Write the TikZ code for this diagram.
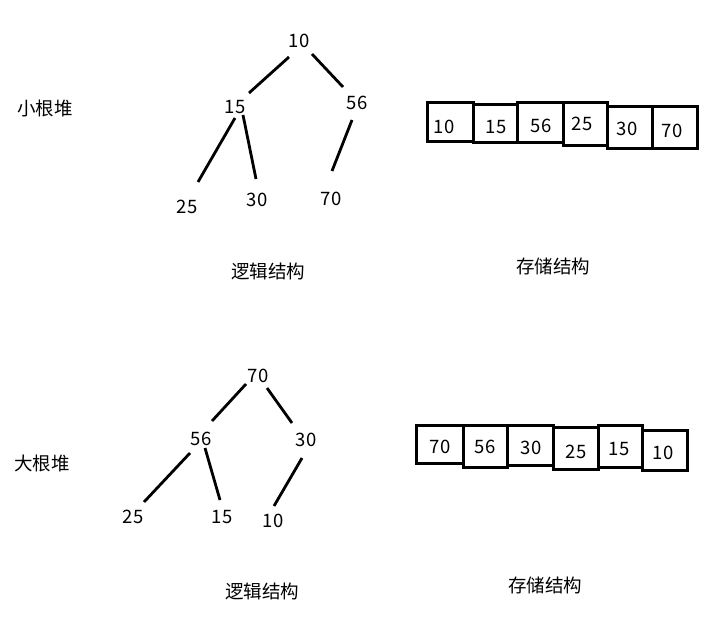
\documentclass[tikz,border=0pt]{standalone}
\usepackage{fontspec}
\setmainfont{Noto Sans CJK SC}
\begin{document}
\begin{tikzpicture}[x=1pt,y=-1pt,
  txt/.style={inner sep=0pt, font=\fontsize{18.5}{22}\selectfont},
  edge/.style={line width=2.8pt},
  cell/.style={draw, line width=3pt, inner sep=0pt}]
\useasboundingbox[fill=white] (0,0) rectangle (719,639);
% ---- top tree
\node[txt] (t10) at (299,41) {10};
\node[txt] (t15) at (235,107) {15};
\node[txt] (t56) at (357,103) {56};
\node[txt] (t25) at (187,207) {25};
\node[txt] (t30) at (257,200) {30};
\node[txt] (t70) at (331,199) {70};
\draw[edge] ([shift={(-10,16)}]t10.center) -- ([shift={(14,-14)}]t15.center);
\draw[edge] ([shift={(13,13)}]t10.center) -- ([shift={(-14,-16)}]t56.center);
\draw[edge] ([shift={(0,11)}]t15.center) -- ([shift={(11,-25)}]t25.center);
\draw[edge] ([shift={(8,8)}]t15.center) -- ([shift={(-1,-21)}]t30.center);
\draw[edge] ([shift={(-5,17)}]t56.center) -- ([shift={(1,-28)}]t70.center);
\node[txt] (lsmall) at (45,108) {小根堆};
\node[txt] (logic1) at (268,271) {逻辑结构};
\node[txt] (store1) at (553,266) {存储结构};
% ---- top array
\node[cell, minimum width=46, minimum height=39] (a1) at (450,122.5) {};
\node[cell, minimum width=44, minimum height=38] (a2) at (495,124) {};
\node[cell, minimum width=46, minimum height=40] (a3) at (540,123) {};
\node[cell, minimum width=44, minimum height=43] (a4) at (585,124.5) {};
\node[cell, minimum width=45, minimum height=42] (a5) at (629.5,128) {};
\node[cell, minimum width=45, minimum height=42] (a6) at (674.5,128) {};
\node[txt] (a1t) at (444,127) {10};
\node[txt] (a2t) at (496,127) {15};
\node[txt] (a3t) at (541,126) {56};
\node[txt] (a4t) at (582,124) {25};
\node[txt] (a5t) at (627,129) {30};
\node[txt] (a6t) at (672,131) {70};
% ---- bottom tree
\node[txt] (b70) at (258,376) {70};
\node[txt] (b56) at (201,439) {56};
\node[txt] (b30) at (306,440) {30};
\node[txt] (b25) at (133,517) {25};
\node[txt] (b15) at (222,517) {15};
\node[txt] (b10) at (273,521) {10};
\draw[edge] ([shift={(-12,8)}]b70.center) -- ([shift={(11,-18)}]b56.center);
\draw[edge] ([shift={(9,12)}]b70.center) -- ([shift={(-14,-17)}]b30.center);
\draw[edge] ([shift={(-11,14)}]b56.center) -- ([shift={(11,-15)}]b25.center);
\draw[edge] ([shift={(4,9)}]b56.center) -- ([shift={(-2,-17)}]b15.center);
\draw[edge] ([shift={(-4,18)}]b30.center) -- ([shift={(1,-15)}]b10.center);
\node[txt] (lbig) at (42,463) {大根堆};
\node[txt] (logic2) at (262,591) {逻辑结构};
\node[txt] (store2) at (545,585) {存储结构};
% ---- bottom array
\node[cell, minimum width=47, minimum height=38] (c1) at (439.5,444) {};
\node[cell, minimum width=44, minimum height=42] (c2) at (485,446) {};
\node[cell, minimum width=46, minimum height=40] (c3) at (530,445) {};
\node[cell, minimum width=45, minimum height=42] (c4) at (575.5,448) {};
\node[cell, minimum width=44, minimum height=42] (c5) at (620,446) {};
\node[cell, minimum width=45, minimum height=40] (c6) at (664.5,450) {};
\node[txt] (c1t) at (440,447) {70};
\node[txt] (c2t) at (485,447) {56};
\node[txt] (c3t) at (531,448) {30};
\node[txt] (c4t) at (576,452) {25};
\node[txt] (c5t) at (619,449) {15};
\node[txt] (c6t) at (663,453) {10};
\end{tikzpicture}
\end{document}
